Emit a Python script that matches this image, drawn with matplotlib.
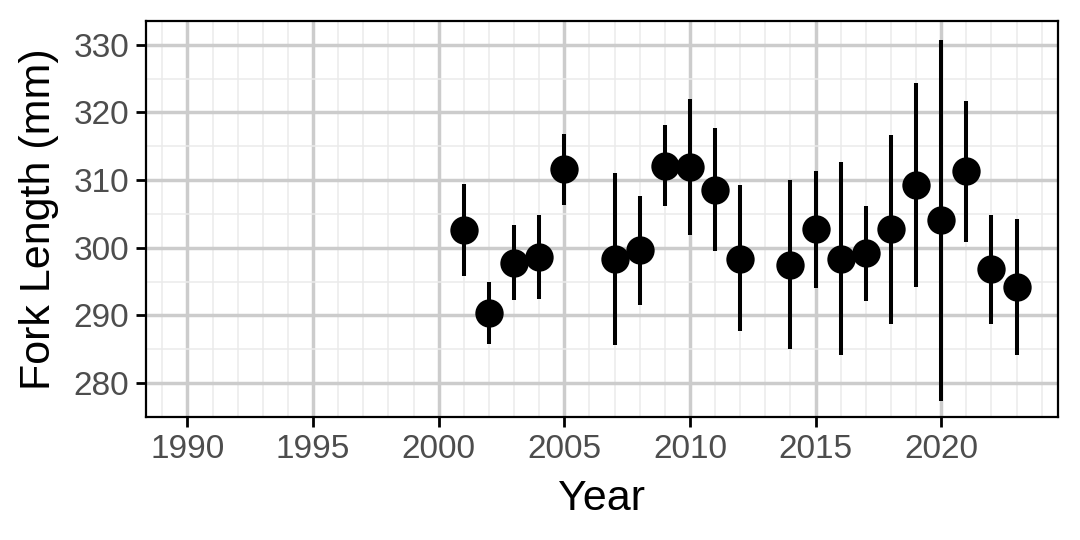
import matplotlib.pyplot as plt
from matplotlib.ticker import MultipleLocator

plt.rcParams['font.family'] = ['Liberation Sans', 'DejaVu Sans']

years = [2001, 2002, 2003, 2004, 2005, 2007, 2008, 2009, 2010, 2011, 2012,
         2014, 2015, 2016, 2017, 2018, 2019, 2020, 2021, 2022, 2023]
mean_fl = [302.6, 290.3, 297.8, 298.6, 311.6, 298.4, 299.7, 312.1, 311.9, 308.6, 298.4,
           297.5, 302.8, 298.4, 299.2, 302.7, 309.3, 304.1, 311.3, 296.8, 294.2]
upper_fl = [309.4, 294.9, 303.3, 304.8, 316.8, 311.1, 307.7, 318.2, 322.0, 317.7, 309.3,
            310.0, 311.4, 312.6, 306.1, 316.6, 324.4, 330.7, 321.7, 304.8, 304.3]
lower_fl = [295.8, 285.8, 292.3, 292.4, 306.3, 285.7, 291.5, 306.2, 301.9, 299.5, 287.7,
            285.0, 294.1, 284.1, 292.2, 288.7, 294.2, 277.4, 300.9, 288.8, 284.1]

fig = plt.figure(figsize=(5.4, 2.7), dpi=200)
ax = fig.add_axes([0.1352, 0.2278, 0.8444, 0.7333])

# error bars then points
ax.vlines(years, lower_fl, upper_fl, color='black', linewidth=1.45, zorder=3)
ax.plot(years, mean_fl, 'o', color='black', markersize=9.2, zorder=4)

ax.set_xlim(1988.35, 2024.65)
ax.set_ylim(275.0, 333.5)
ax.xaxis.set_major_locator(MultipleLocator(5))
ax.xaxis.set_minor_locator(MultipleLocator(1))
ax.yaxis.set_major_locator(MultipleLocator(10))
ax.yaxis.set_minor_locator(MultipleLocator(5))

ax.grid(which='major', color='#CCCCCC', linewidth=1.25)
ax.grid(which='minor', color='#EBEBEB', linewidth=0.55)
ax.set_axisbelow(True)

for s in ax.spines.values():
    s.set_color('black')
    s.set_linewidth(0.8)

ax.tick_params(which='major', length=3.6, width=1.0, color='black',
               labelsize=12, labelcolor='#4D4D4D', pad=2.5)
ax.tick_params(which='minor', length=0)

ax.set_xlabel('Year', fontsize=15.5, labelpad=5)
ax.set_ylabel('Fork Length (mm)', fontsize=15.5, labelpad=5)

fig.savefig('out.png', dpi=200)
